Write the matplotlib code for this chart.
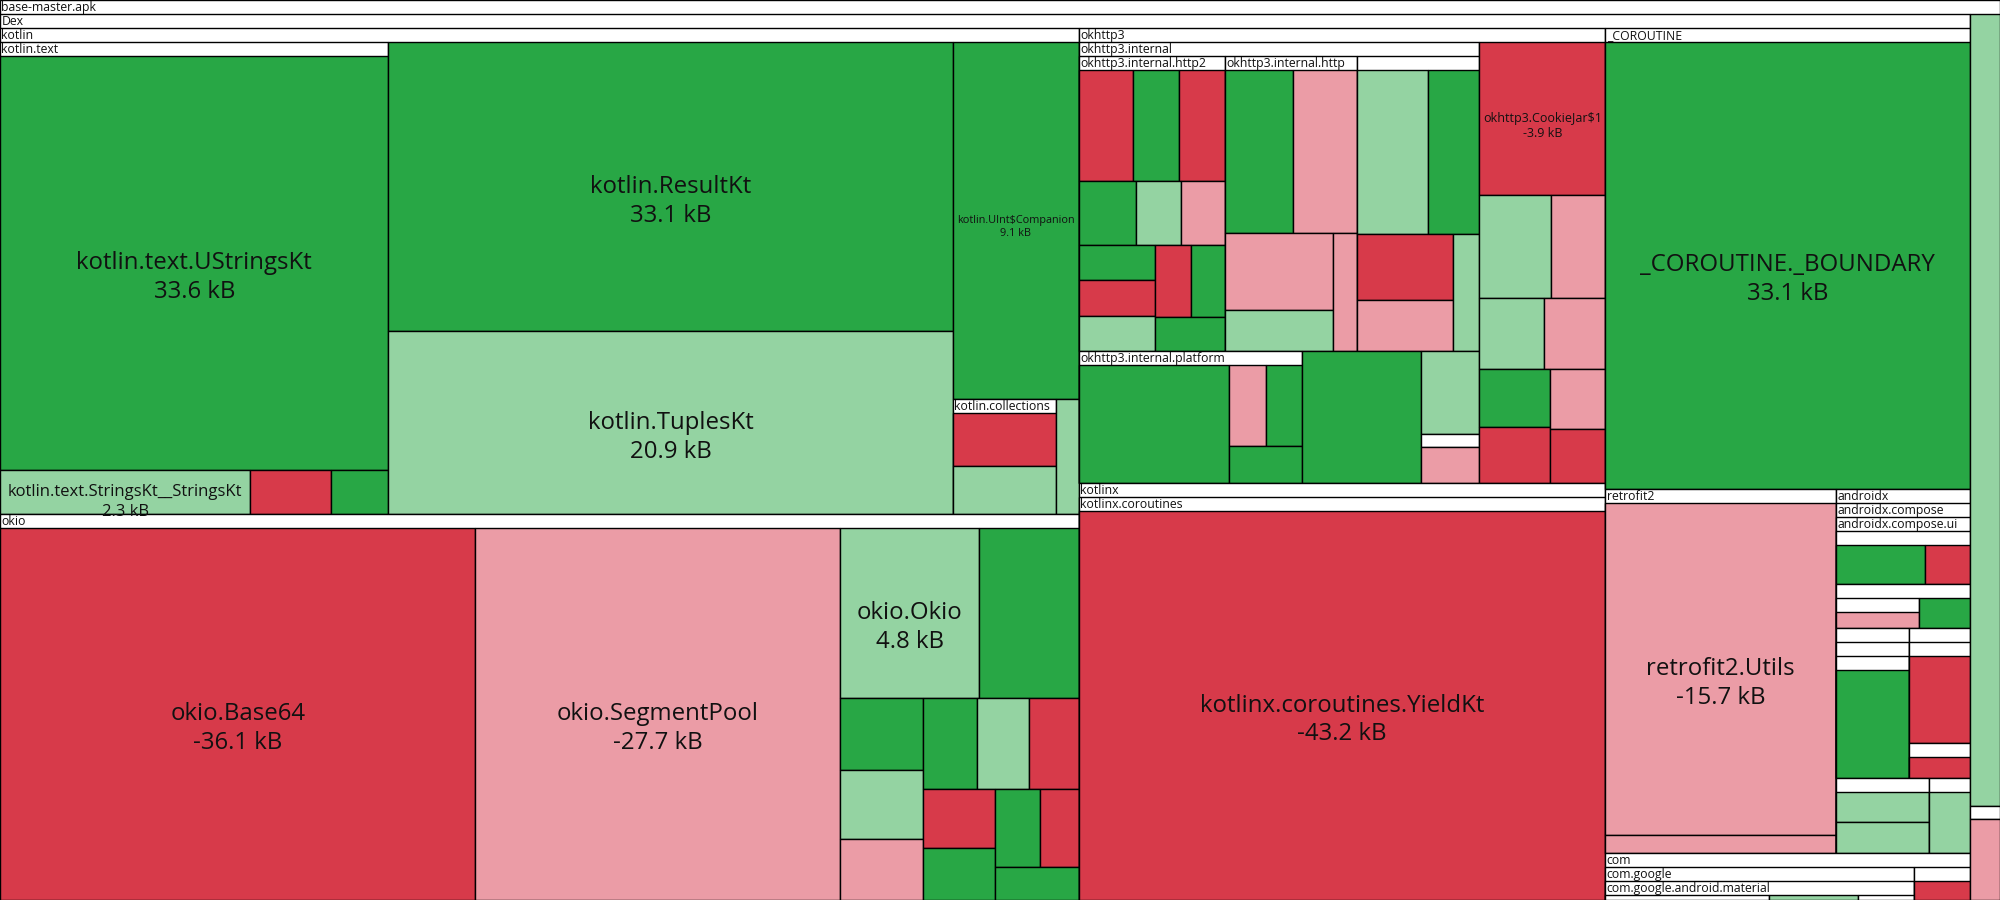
import matplotlib
matplotlib.use("Agg")
import matplotlib.pyplot as plt
from matplotlib.patches import Rectangle

# ---------------- data ----------------
# leaves: (class name shown in the box, size change in kB, status)
# status: A = added, G = grown, R = removed, S = shrunk
KOTLIN_TEXT = [("kotlin.text.UStringsKt", 33.6, "A"),
               ("kotlin.text.StringsKt__StringsKt", 2.3, "G"),
               ("", -0.74, "R"), ("", 0.53, "A")]
KOTLIN_CLASSES = [("kotlin.ResultKt", 33.1, "A"), ("kotlin.TuplesKt", 20.9, "G"),
                  ("kotlin.UInt$Companion", 9.1, "A")]
KOTLIN_COLLECTIONS = [("", -1.26, "R"), ("", 1.14, "G")]
KOTLIN_TAIL = [("", 0.54, "G")]

OKIO = [("okio.Base64", -36.1, "R"), ("okio.SegmentPool", -27.7, "S"),
        ("okio.Okio", 4.8, "G"), ("", 3.44, "A"), ("", 1.22, "A"), ("", 1.17, "G"),
        ("", -1.04, "S"), ("", 0.99, "A"), ("", 0.97, "G"), ("", -0.93, "R"),
        ("", -0.86, "R"), ("", 0.76, "A"), ("", 0.73, "A"), ("", -0.61, "R"),
        ("", 0.57, "A")]

OKHTTP_HTTP2 = [("", -1.32, "R"), ("", 1.12, "A"), ("", -1.12, "R"), ("", 0.81, "A"),
                ("", 0.64, "G"), ("", -0.63, "S"), ("", 0.59, "A"), ("", -0.59, "R"),
                ("", 0.59, "G"), ("", -0.58, "R"), ("", 0.53, "A"), ("", 0.52, "A")]
OKHTTP_HTTP = [("", 2.44, "A"), ("", -2.29, "S"), ("", -1.83, "S"), ("", 0.97, "G"),
               ("", -0.62, "S")]
OKHTTP_OTHER = [("", 2.56, "G"), ("", 1.87, "A"), ("", -1.39, "R"), ("", -1.08, "S"),
                ("", 0.69, "G")]
OKHTTP_PLATFORM = [("", 4.16, "A"), ("", -0.72, "S"), ("", 0.685, "A"), ("", 0.64, "A")]
OKHTTP_INTERNAL = [("", 3.30, "A"), ("", 1.01, "G")]
OKHTTP_INTERNAL_SMALL = [("", 0.16, "G")]
OKHTTP_INTERNAL_TAIL = [("", -0.44, "S")]
OKHTTP_CLASSES = [("okhttp3.CookieJar$1", -3.9, "R"), ("", 1.49, "G"), ("", -1.13, "S"),
                  ("", 0.94, "G"), ("", -0.89, "S"), ("", 0.83, "A"), ("", -0.80, "R"),
                  ("", -0.67, "S"), ("", -0.60, "R")]

KOTLINX = [("kotlinx.coroutines.YieldKt", -43.2, "R")]
COROUTINE = [("_COROUTINE._BOUNDARY", 33.1, "A")]
RETROFIT = [("retrofit2.Utils", -15.7, "S"), ("", -0.86, "S")]

UI_TOP = [("", 0.80, "A"), ("", -0.41, "R")]
UI_N1 = [("", -0.62, "S")]
UI_MID = [("", 0.38, "A")]
UI_L = [("", 2.65, "A")]
UI_R_TOP = [("", -1.61, "R")]
UI_R_BOTTOM = [("", -0.64, "R")]
UI_M1 = [("", 0.85, "G"), ("", 0.85, "G")]
UI_M2 = [("", 0.75, "G")]

MATERIAL_A = [("", 1.52, "G")]
MATERIAL_B = [("", 0.83, "G")]
MATERIAL_C = [("", 0.52, "G")]
COM_OTHER = [("", -0.52, "R")]

APK_OTHER = [("", 4.61, "G")]
APK_SMALL = [("", 0.08, "G")]
APK_TAIL = [("", -0.47, "S")]

COLORS = {"A": "#28a745", "G": "#94d3a2", "R": "#d73a4a", "S": "#eb9ca6"}

# ---------------- layout parameters ----------------
W, H = 2000, 900
HEADER = 14
RATIO = (1 + 5 ** 0.5) / 2
FONT = ["Open Sans", "DejaVu Sans"]
HDR_FS = 8.8
LEAF_MAX_FS = 17.3
LEAF_MIN_FS = 7.0
LW = 1.0
TXT = "#111111"


def leaves(rows):
    return [{"name": n, "kb": v, "status": s} for n, v, s in rows]


def pkg(name, *parts):
    kids = []
    for p in parts:
        kids.extend(p if isinstance(p, list) else [p])
    return {"name": name, "children": kids}


kotlin = pkg("kotlin", pkg("kotlin.text", leaves(KOTLIN_TEXT)), leaves(KOTLIN_CLASSES),
             pkg("kotlin.collections", leaves(KOTLIN_COLLECTIONS)), leaves(KOTLIN_TAIL))
okio = pkg("okio", leaves(OKIO))
okhttp3 = pkg("okhttp3",
              pkg("okhttp3.internal",
                  pkg("okhttp3.internal.http2", leaves(OKHTTP_HTTP2)),
                  pkg("okhttp3.internal.http", leaves(OKHTTP_HTTP)),
                  pkg("", leaves(OKHTTP_OTHER)),
                  pkg("okhttp3.internal.platform", leaves(OKHTTP_PLATFORM)),
                  leaves(OKHTTP_INTERNAL),
                  pkg("", leaves(OKHTTP_INTERNAL_SMALL)),
                  leaves(OKHTTP_INTERNAL_TAIL)),
              leaves(OKHTTP_CLASSES))
kotlinx = pkg("kotlinx", pkg("kotlinx.coroutines", leaves(KOTLINX)))
coroutine = pkg("_COROUTINE", leaves(COROUTINE))
retrofit = pkg("retrofit2", leaves(RETROFIT))
androidx = pkg("androidx", pkg("androidx.compose", pkg("androidx.compose.ui", pkg(
    "", leaves(UI_TOP),
    pkg("", pkg("", leaves(UI_N1)), leaves(UI_MID),
        pkg("", pkg("", pkg("", leaves(UI_L)))),
        pkg("", pkg("", leaves(UI_R_TOP), pkg("", leaves(UI_R_BOTTOM)))),
        pkg("", leaves(UI_M1)), pkg("", leaves(UI_M2)))))))
com = pkg("com",
          pkg("com.google", pkg("com.google.android.material",
                                pkg("", leaves(MATERIAL_A)), leaves(MATERIAL_B),
                                pkg("", leaves(MATERIAL_C)))),
          pkg("", leaves(COM_OTHER)))
root = pkg("base-master.apk",
           pkg("Dex", kotlin, okio, okhttp3, kotlinx, coroutine, retrofit, androidx, com),
           leaves(APK_OTHER), pkg("", leaves(APK_SMALL)), leaves(APK_TAIL))


def total(node):
    if "children" in node:
        node["value"] = sum(total(c) for c in node["children"])
    else:
        node["value"] = abs(node["kb"])
    return node["value"]


def squarify(nodes, x0, y0, x1, y1):
    """Port of d3.treemapSquarify (ratio = golden ratio)."""
    rects = [None] * len(nodes)
    value = sum(n["value"] for n in nodes)
    n = len(nodes)
    i0 = i1 = 0
    while i0 < n:
        dx, dy = x1 - x0, y1 - y0
        if dx <= 0 or dy <= 0 or value <= 0:
            for j in range(i0, n):
                rects[j] = (x0, y0, x0, y0)
            break
        sum_v = nodes[i1]["value"]
        i1 += 1
        while not sum_v and i1 < n:
            sum_v = nodes[i1]["value"]
            i1 += 1
        min_v = max_v = sum_v
        alpha = max(dy / dx, dx / dy) / (value * RATIO)
        beta = sum_v * sum_v * alpha
        min_ratio = max(max_v / beta, beta / min_v)
        while i1 < n:
            nv = nodes[i1]["value"]
            s2 = sum_v + nv
            mn, mx = min(min_v, nv), max(max_v, nv)
            beta = s2 * s2 * alpha
            new_ratio = max(mx / beta, beta / mn) if mn > 0 else float("inf")
            if new_ratio > min_ratio:
                break
            sum_v, min_v, max_v, min_ratio = s2, mn, mx, new_ratio
            i1 += 1
        if dx < dy:
            ny = y0 + dy * sum_v / value
            k = dx / sum_v
            x = x0
            for j in range(i0, i1):
                w = nodes[j]["value"] * k
                rects[j] = (x, y0, x + w, ny)
                x += w
            y0 = ny
        else:
            nx = x0 + dx * sum_v / value
            k = dy / sum_v
            y = y0
            for j in range(i0, i1):
                h = nodes[j]["value"] * k
                rects[j] = (x0, y, nx, y + h)
                y += h
            x0 = nx
        value -= sum_v
        i0 = i1
    return rects


def position(node, x0, y0, x1, y1):
    node["rect"] = (x0, y0, x1, y1)
    kids = node.get("children")
    if kids:
        cy0, cy1 = y0 + HEADER, y1
        if cy1 < cy0:
            cy0 = cy1 = (cy0 + cy1) / 2
        for c, r in zip(kids, squarify(kids, x0, cy0, x1, cy1)):
            position(c, *r)


total(root)
position(root, 0, 0, W, H)

fig = plt.figure(figsize=(W / 100, H / 100), dpi=100)
ax = fig.add_axes([0, 0, 1, 1])
ax.set_xlim(0, W)
ax.set_ylim(H, 0)
ax.axis("off")
renderer = fig.canvas.get_renderer()


def text_width(s, size):
    t = ax.text(0, 0, s, fontsize=size, family=FONT)
    w = t.get_window_extent(renderer).width
    t.remove()
    return w


def draw(node):
    x0, y0, x1, y1 = node["rect"]
    w, h = x1 - x0, y1 - y0
    if w < 0.5 or h < 0.5:
        return
    if "children" in node:
        rect = Rectangle((x0, y0), w, h, facecolor="white", edgecolor="black", lw=LW)
        ax.add_patch(rect)
        if node["name"]:
            t = ax.text(x0 + 1.5, y0 + HEADER / 2 + 0.5, node["name"], fontsize=HDR_FS,
                        family=FONT, va="center", ha="left", color=TXT)
            t.set_clip_path(rect)
        for c in node["children"]:
            draw(c)
    else:
        rect = Rectangle((x0, y0), w, h, facecolor=COLORS[node["status"]],
                         edgecolor="black", lw=LW)
        ax.add_patch(rect)
        if node["name"]:
            tw = text_width(node["name"], 10)
            fs = min(LEAF_MAX_FS, 10 * 0.94 * w / tw)
            if fs >= LEAF_MIN_FS:
                cx, cy = (x0 + x1) / 2, (y0 + y1) / 2
                t1 = ax.text(cx, cy, node["name"], fontsize=fs, family=FONT,
                             ha="center", va="center", color=TXT)
                t2 = ax.text(cx, cy + fs * 100 / 72 * 1.2, f"{node['kb']:.1f} kB",
                             fontsize=fs, family=FONT, ha="center", va="center", color=TXT)
                t1.set_clip_path(rect)
                t2.set_clip_path(rect)


draw(root)
fig.savefig("out.png", dpi=100)
